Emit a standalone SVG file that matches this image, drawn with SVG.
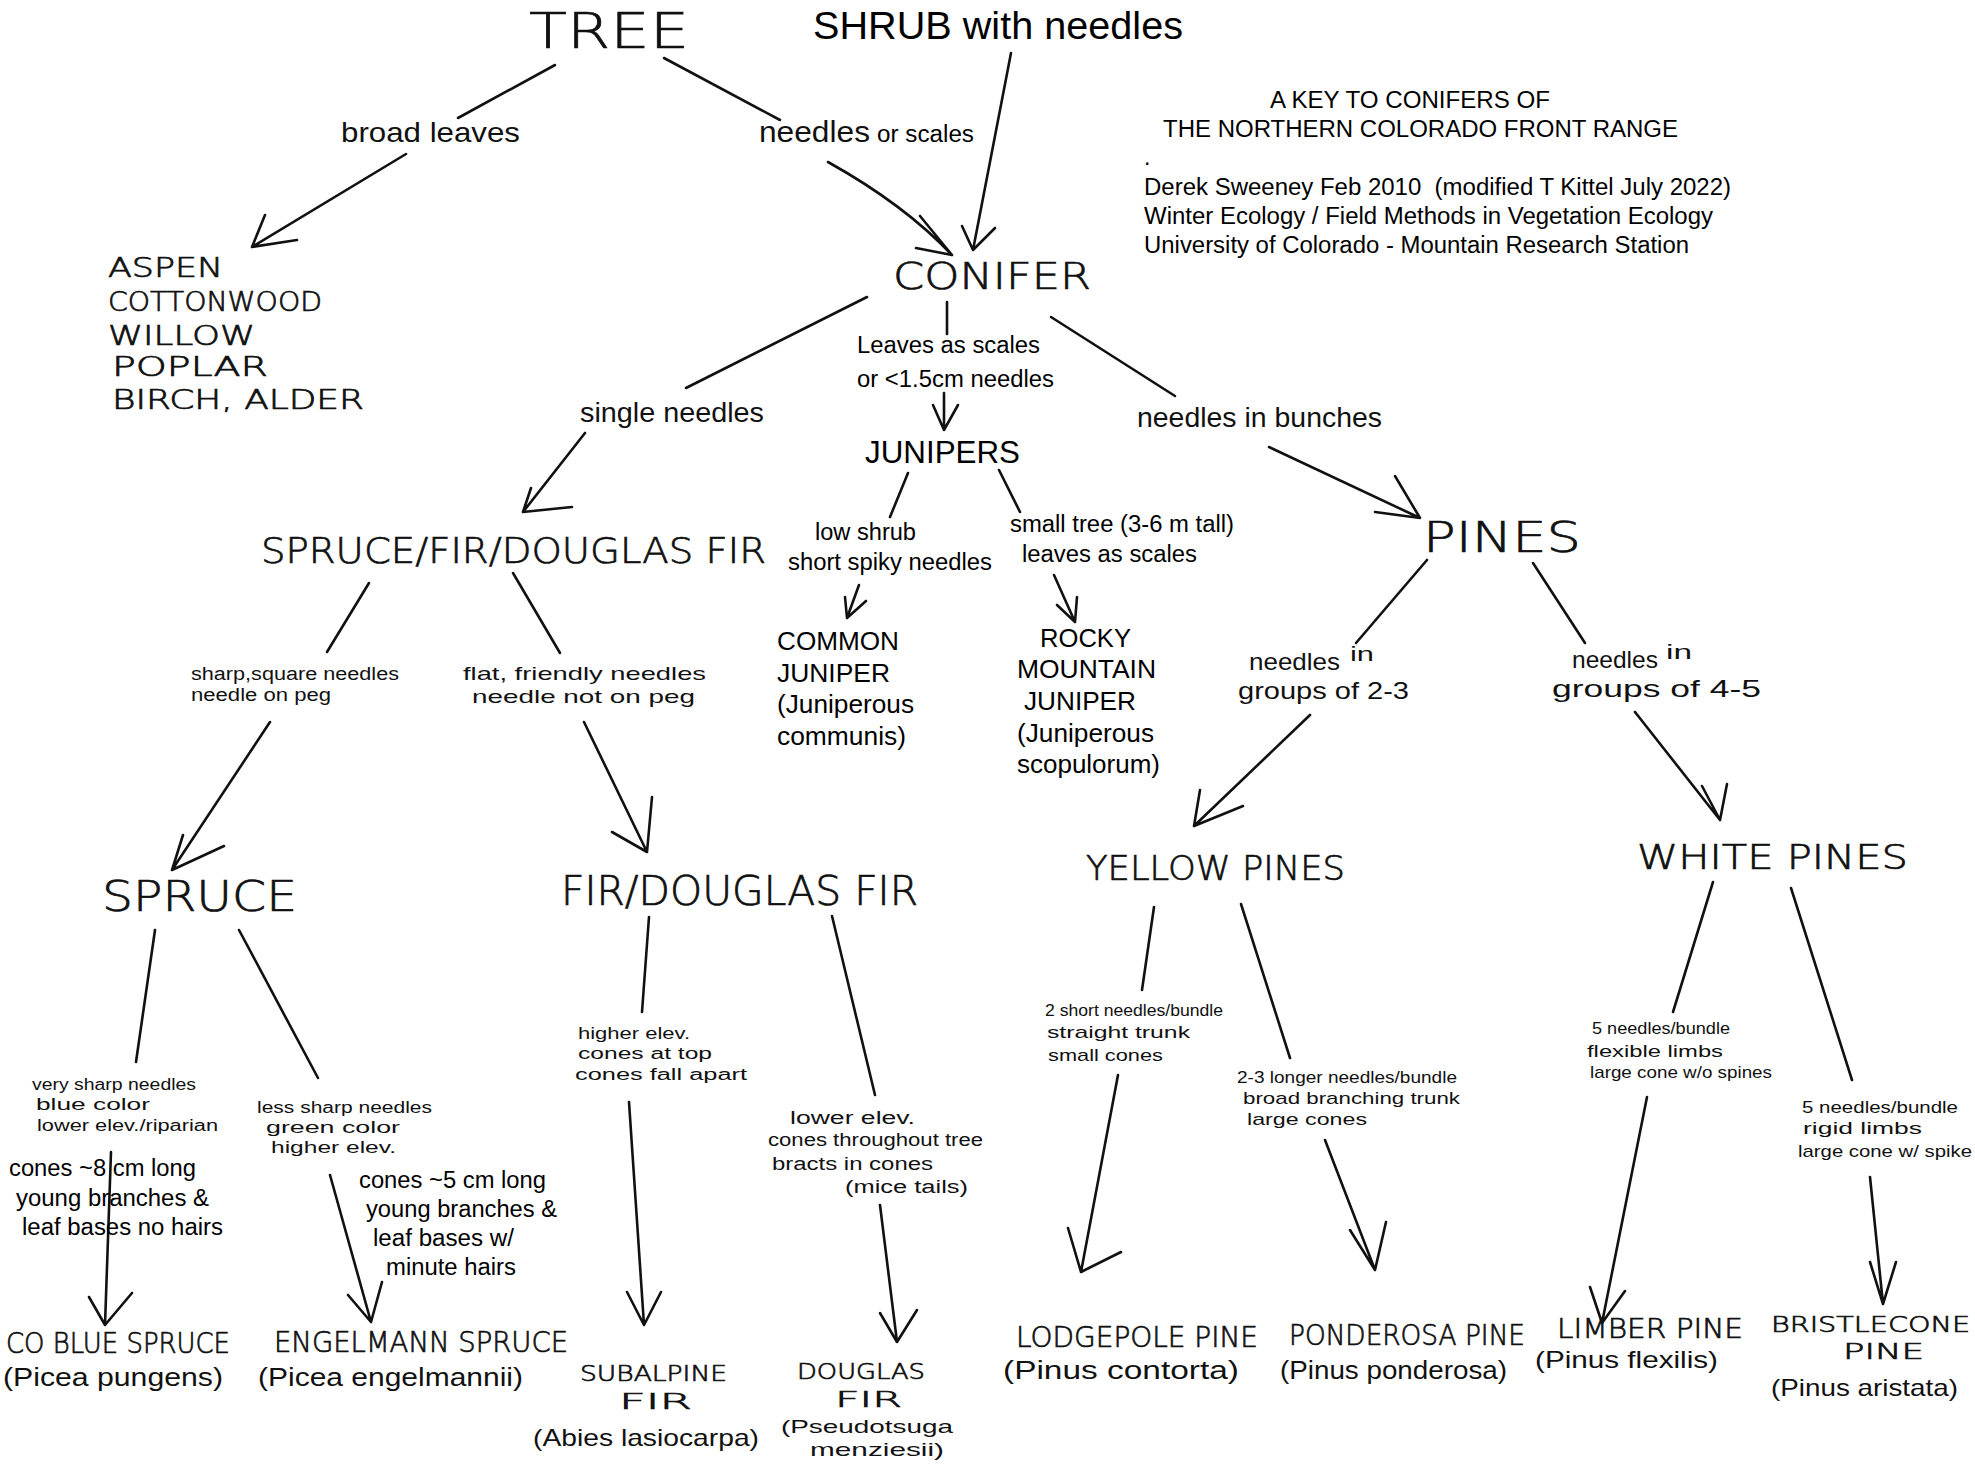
<svg xmlns="http://www.w3.org/2000/svg" width="1975" height="1473" viewBox="0 0 1975 1473">
<style>
.ty{font-family:"Liberation Sans",Arial,sans-serif;fill:#000}
.hw{font-family:"Liberation Sans Narrow","Liberation Sans",sans-serif;fill:#111}
.hc{font-family:"DejaVu Sans","Liberation Sans",sans-serif;fill:#111;font-weight:200;stroke:#111;stroke-width:0.7}
.ln{fill:none;stroke:#111;stroke-width:2.6;stroke-linecap:round;stroke-linejoin:round}
</style>
<rect width="1975" height="1473" fill="#fff"/>
<g id="connectors" class="ln">
<path d="M555,65 L458,118"/>
<path d="M664,58 L780,120"/>
<path d="M406,154 L252,247 M265,215 L252,247 L297,240"/>
<path d="M828,162 Q905,205 952,255 M920,216 L952,255 L916,248"/>
<path d="M1011,53 L973,250 M962,226 L973,250 L995,228"/>
<path d="M867,297 L686,388"/>
<path d="M585,433 L523,512 L572,507 M523,512 L531,488"/>
<path d="M947,302 L947,334"/>
<path d="M944,393 L944,430 M933,405 L944,430 L958,405"/>
<path d="M908,473 L890,517"/>
<path d="M999,470 L1020,512"/>
<path d="M859,585 L847,618 M845,597 L847,618 L866,601"/>
<path d="M1054,575 L1075,622 M1057,605 L1075,622 L1077,597"/>
<path d="M1051,317 L1175,396"/>
<path d="M1269,447 L1420,518 M1395,476 L1420,518 L1375,512"/>
<path d="M369,583 L327,652"/>
<path d="M513,573 L560,653"/>
<path d="M270,722 L172,870 M183,835 L172,870 L224,846"/>
<path d="M584,722 L647,852 M652,797 L647,852 L612,832"/>
<path d="M155,930 L136,1062"/>
<path d="M239,930 L318,1078"/>
<path d="M111,1152 L105,1325 M89,1297 L105,1325 L132,1293"/>
<path d="M330,1175 L371,1322 M348,1295 L371,1322 L382,1282"/>
<path d="M649,917 L642,1012"/>
<path d="M629,1102 L644,1325 M627,1292 L644,1325 L661,1292"/>
<path d="M832,916 L875,1095"/>
<path d="M880,1205 L897,1342 M880,1313 L897,1342 L917,1310"/>
<path d="M1427,560 L1356,643"/>
<path d="M1310,715 L1194,826 L1200,790 M1194,826 L1243,806"/>
<path d="M1533,563 L1585,643"/>
<path d="M1635,712 L1720,820 M1702,786 L1720,820 L1727,784"/>
<path d="M1154,907 L1142,990"/>
<path d="M1118,1075 L1081,1272 M1068,1228 L1081,1272 L1121,1252"/>
<path d="M1241,904 L1290,1058"/>
<path d="M1325,1140 L1375,1270 M1350,1230 L1375,1270 L1386,1222"/>
<path d="M1713,882 L1673,1012"/>
<path d="M1647,1097 L1602,1323 M1590,1287 L1602,1323 L1625,1291"/>
<path d="M1791,888 L1852,1080"/>
<path d="M1870,1177 L1883,1304 M1870,1262 L1883,1304 L1896,1262"/>
</g>
<g id="tree"><text class="hc" x="529" y="48" font-size="50" textLength="160" lengthAdjust="spacingAndGlyphs">TREE</text></g>
<g id="shrub"><text class="ty" x="813" y="39" font-size="39" textLength="370" lengthAdjust="spacingAndGlyphs">SHRUB with needles</text></g>
<g id="title" class="ty" font-size="23">
<text x="1270" y="108" textLength="280" lengthAdjust="spacingAndGlyphs">A KEY TO CONIFERS OF</text>
<text x="1163" y="137" textLength="515" lengthAdjust="spacingAndGlyphs">THE NORTHERN COLORADO FRONT RANGE</text>
<text x="1144" y="165">.</text>
<text x="1144" y="195" textLength="587" lengthAdjust="spacingAndGlyphs" xml:space="preserve">Derek Sweeney Feb 2010  (modified T Kittel July 2022)</text>
<text x="1144" y="224" textLength="569" lengthAdjust="spacingAndGlyphs">Winter Ecology / Field Methods in Vegetation Ecology</text>
<text x="1144" y="253" textLength="545" lengthAdjust="spacingAndGlyphs">University of Colorado - Mountain Research Station</text>
</g>
<g id="lbl-broad"><text class="hw" x="341" y="142" font-size="28" textLength="179" lengthAdjust="spacingAndGlyphs">broad leaves</text></g>
<g id="lbl-needles"><text class="hw" x="759" y="142" font-size="30" textLength="111" lengthAdjust="spacingAndGlyphs">needles</text><text class="ty" x="877" y="142" font-size="23" textLength="97" lengthAdjust="spacingAndGlyphs">or scales</text></g>
<g id="broadleaf" class="hc" font-size="26">
<text x="108" y="277" textLength="115" lengthAdjust="spacingAndGlyphs">ASPEN</text>
<text x="108" y="311" textLength="214" lengthAdjust="spacingAndGlyphs">COTTONWOOD</text>
<text x="108" y="345" textLength="147" lengthAdjust="spacingAndGlyphs">WILLOW</text>
<text x="112" y="376" textLength="156" lengthAdjust="spacingAndGlyphs">POPLAR</text>
<text x="112" y="409" textLength="252" lengthAdjust="spacingAndGlyphs">BIRCH, ALDER</text>
</g>
<g id="conifer"><text class="hc" x="893" y="289" font-size="38" textLength="198" lengthAdjust="spacingAndGlyphs">CONIFER</text></g>
<g id="lbl-single"><text class="hw" x="580" y="422" font-size="27" textLength="184" lengthAdjust="spacingAndGlyphs">single needles</text></g>
<g id="lbl-scales" class="ty" font-size="23">
<text x="857" y="353" textLength="183" lengthAdjust="spacingAndGlyphs">Leaves as scales</text>
<text x="857" y="387" textLength="197" lengthAdjust="spacingAndGlyphs">or &lt;1.5cm needles</text>
</g>
<g id="lbl-bunches"><text class="hw" x="1137" y="427" font-size="27" textLength="245" lengthAdjust="spacingAndGlyphs">needles in bunches</text></g>
<g id="junipers"><text class="ty" x="865" y="463" font-size="31" textLength="155" lengthAdjust="spacingAndGlyphs">JUNIPERS</text></g>
<g id="lbl-lowshrub" class="ty" font-size="23">
<text x="815" y="540" textLength="101" lengthAdjust="spacingAndGlyphs">low shrub</text>
<text x="788" y="570" textLength="204" lengthAdjust="spacingAndGlyphs">short spiky needles</text>
</g>
<g id="lbl-smalltree" class="ty" font-size="23">
<text x="1010" y="532" textLength="224" lengthAdjust="spacingAndGlyphs">small tree (3-6 m tall)</text>
<text x="1022" y="562" textLength="175" lengthAdjust="spacingAndGlyphs">leaves as scales</text>
</g>
<g id="common-juniper" class="ty" font-size="26">
<text x="777" y="650" textLength="122" lengthAdjust="spacingAndGlyphs">COMMON</text>
<text x="777" y="682" textLength="113" lengthAdjust="spacingAndGlyphs">JUNIPER</text>
<text x="777" y="713" textLength="137" lengthAdjust="spacingAndGlyphs">(Juniperous</text>
<text x="777" y="745" textLength="129" lengthAdjust="spacingAndGlyphs">communis)</text>
</g>
<g id="rocky-mountain-juniper" class="ty" font-size="26">
<text x="1040" y="647" textLength="91" lengthAdjust="spacingAndGlyphs">ROCKY</text>
<text x="1017" y="678" textLength="139" lengthAdjust="spacingAndGlyphs">MOUNTAIN</text>
<text x="1024" y="710" textLength="112" lengthAdjust="spacingAndGlyphs">JUNIPER</text>
<text x="1017" y="742" textLength="137" lengthAdjust="spacingAndGlyphs">(Juniperous</text>
<text x="1017" y="773" textLength="143" lengthAdjust="spacingAndGlyphs">scopulorum)</text>
</g>
<g id="spruce-fir"><text class="hc" x="261" y="563" font-size="36" textLength="505" lengthAdjust="spacingAndGlyphs">SPRUCE/FIR/DOUGLAS FIR</text></g>
<g id="pines"><text class="hc" x="1423" y="552" font-size="42" textLength="158" lengthAdjust="spacingAndGlyphs">PINES</text></g>
<g id="lbl-sharp" class="hw" font-size="18">
<text x="191" y="680" textLength="208" lengthAdjust="spacingAndGlyphs">sharp,square needles</text>
<text x="191" y="701" textLength="140" lengthAdjust="spacingAndGlyphs">needle on peg</text>
</g>
<g id="lbl-flat" class="hw" font-size="19">
<text x="463" y="680" textLength="243" lengthAdjust="spacingAndGlyphs">flat, friendly needles</text>
<text x="472" y="703" textLength="223" lengthAdjust="spacingAndGlyphs">needle not on peg</text>
</g>
<g id="lbl-groups23" class="hw" font-size="24">
<text x="1249" y="670" textLength="91" lengthAdjust="spacingAndGlyphs">needles</text>
<text x="1350" y="661" font-size="20" textLength="24" lengthAdjust="spacingAndGlyphs">in</text>
<text x="1238" y="699" textLength="171" lengthAdjust="spacingAndGlyphs">groups of 2-3</text>
</g>
<g id="lbl-groups45" class="hw" font-size="24">
<text x="1572" y="668" textLength="86" lengthAdjust="spacingAndGlyphs">needles</text>
<text x="1666" y="659" font-size="20" textLength="26" lengthAdjust="spacingAndGlyphs">in</text>
<text x="1552" y="697" textLength="209" lengthAdjust="spacingAndGlyphs">groups of 4-5</text>
</g>
<g id="spruce"><text class="hc" x="102" y="911" font-size="42" textLength="195" lengthAdjust="spacingAndGlyphs">SPRUCE</text></g>
<g id="fir-douglas"><text class="hc" x="561" y="905" font-size="40" textLength="357" lengthAdjust="spacingAndGlyphs">FIR/DOUGLAS FIR</text></g>
<g id="yellow-pines"><text class="hc" x="1086" y="880" font-size="34" textLength="259" lengthAdjust="spacingAndGlyphs">YELLOW PINES</text></g>
<g id="white-pines"><text class="hc" x="1637" y="869" font-size="34" textLength="271" lengthAdjust="spacingAndGlyphs">WHITE PINES</text></g>
<g id="lbl-verysharp" class="hw" font-size="16">
<text x="32" y="1090" textLength="164" lengthAdjust="spacingAndGlyphs">very sharp needles</text>
<text x="36" y="1110" textLength="114" lengthAdjust="spacingAndGlyphs">blue color</text>
<text x="37" y="1131" textLength="181" lengthAdjust="spacingAndGlyphs">lower elev./riparian</text>
</g>
<g id="lbl-cones8" class="ty" font-size="23">
<text x="9" y="1176" textLength="187" lengthAdjust="spacingAndGlyphs">cones ~8 cm long</text>
<text x="16" y="1206" textLength="193" lengthAdjust="spacingAndGlyphs">young branches &amp;</text>
<text x="22" y="1235" textLength="201" lengthAdjust="spacingAndGlyphs">leaf bases no hairs</text>
</g>
<g id="lbl-lesssharp" class="hw" font-size="16">
<text x="257" y="1113" textLength="175" lengthAdjust="spacingAndGlyphs">less sharp needles</text>
<text x="266" y="1133" textLength="134" lengthAdjust="spacingAndGlyphs">green color</text>
<text x="271" y="1153" textLength="125" lengthAdjust="spacingAndGlyphs">higher elev.</text>
</g>
<g id="lbl-cones5" class="ty" font-size="23">
<text x="359" y="1188" textLength="187" lengthAdjust="spacingAndGlyphs">cones ~5 cm long</text>
<text x="366" y="1217" textLength="191" lengthAdjust="spacingAndGlyphs">young branches &amp;</text>
<text x="373" y="1246" textLength="141" lengthAdjust="spacingAndGlyphs">leaf bases w/</text>
<text x="386" y="1275" textLength="130" lengthAdjust="spacingAndGlyphs">minute hairs</text>
</g>
<g id="lbl-higher" class="hw" font-size="16">
<text x="578" y="1039" textLength="112" lengthAdjust="spacingAndGlyphs">higher elev.</text>
<text x="578" y="1059" textLength="134" lengthAdjust="spacingAndGlyphs">cones at top</text>
<text x="575" y="1080" textLength="172" lengthAdjust="spacingAndGlyphs">cones fall apart</text>
</g>
<g id="lbl-lower" class="hw" font-size="18">
<text x="790" y="1124" textLength="125" lengthAdjust="spacingAndGlyphs">lower elev.</text>
<text x="768" y="1146" textLength="215" lengthAdjust="spacingAndGlyphs">cones throughout tree</text>
<text x="772" y="1170" textLength="161" lengthAdjust="spacingAndGlyphs">bracts in cones</text>
<text x="845" y="1193" textLength="123" lengthAdjust="spacingAndGlyphs">(mice tails)</text>
</g>
<g id="lbl-2short" class="hw" font-size="17">
<text x="1045" y="1016" textLength="178" lengthAdjust="spacingAndGlyphs">2 short needles/bundle</text>
<text x="1047" y="1038" textLength="143" lengthAdjust="spacingAndGlyphs">straight trunk</text>
<text x="1048" y="1061" textLength="115" lengthAdjust="spacingAndGlyphs">small cones</text>
</g>
<g id="lbl-23longer" class="hw" font-size="17">
<text x="1237" y="1083" textLength="220" lengthAdjust="spacingAndGlyphs">2-3 longer needles/bundle</text>
<text x="1243" y="1104" textLength="217" lengthAdjust="spacingAndGlyphs">broad branching trunk</text>
<text x="1247" y="1125" textLength="120" lengthAdjust="spacingAndGlyphs">large cones</text>
</g>
<g id="lbl-flexible" class="hw" font-size="17">
<text x="1592" y="1034" textLength="138" lengthAdjust="spacingAndGlyphs">5 needles/bundle</text>
<text x="1587" y="1057" textLength="136" lengthAdjust="spacingAndGlyphs">flexible limbs</text>
<text x="1590" y="1078" textLength="182" lengthAdjust="spacingAndGlyphs">large cone w/o spines</text>
</g>
<g id="lbl-rigid" class="hw" font-size="17">
<text x="1802" y="1113" textLength="156" lengthAdjust="spacingAndGlyphs">5 needles/bundle</text>
<text x="1803" y="1134" textLength="119" lengthAdjust="spacingAndGlyphs">rigid limbs</text>
<text x="1798" y="1157" textLength="174" lengthAdjust="spacingAndGlyphs">large cone w/ spike</text>
</g>
<g id="co-blue-spruce">
<text class="hc" x="6" y="1353" font-size="28" textLength="224" lengthAdjust="spacingAndGlyphs">CO BLUE SPRUCE</text>
<text class="hw" x="3" y="1386" font-size="26" textLength="220" lengthAdjust="spacingAndGlyphs">(Picea pungens)</text>
</g>
<g id="engelmann-spruce">
<text class="hc" x="274" y="1352" font-size="28" textLength="294" lengthAdjust="spacingAndGlyphs">ENGELMANN SPRUCE</text>
<text class="hw" x="258" y="1386" font-size="26" textLength="265" lengthAdjust="spacingAndGlyphs">(Picea engelmannii)</text>
</g>
<g id="subalpine-fir">
<text class="hc" x="580" y="1381" font-size="22" textLength="147" lengthAdjust="spacingAndGlyphs">SUBALPINE</text>
<text class="hc" x="619" y="1409" font-size="22" textLength="73" lengthAdjust="spacingAndGlyphs">FIR</text>
<text class="hw" x="533" y="1446" font-size="24" textLength="226" lengthAdjust="spacingAndGlyphs">(Abies lasiocarpa)</text>
</g>
<g id="douglas-fir">
<text class="hc" x="797" y="1379" font-size="22" textLength="128" lengthAdjust="spacingAndGlyphs">DOUGLAS</text>
<text class="hc" x="835" y="1407" font-size="22" textLength="67" lengthAdjust="spacingAndGlyphs">FIR</text>
<text class="hw" x="781" y="1433" font-size="19" textLength="172" lengthAdjust="spacingAndGlyphs">(Pseudotsuga</text>
<text class="hw" x="810" y="1456" font-size="19" textLength="134" lengthAdjust="spacingAndGlyphs">menziesii)</text>
</g>
<g id="lodgepole-pine">
<text class="hc" x="1016" y="1347" font-size="28" textLength="242" lengthAdjust="spacingAndGlyphs">LODGEPOLE PINE</text>
<text class="hw" x="1003" y="1379" font-size="26" textLength="236" lengthAdjust="spacingAndGlyphs">(Pinus contorta)</text>
</g>
<g id="ponderosa-pine">
<text class="hc" x="1289" y="1345" font-size="28" textLength="236" lengthAdjust="spacingAndGlyphs">PONDEROSA PINE</text>
<text class="hw" x="1280" y="1379" font-size="26" textLength="227" lengthAdjust="spacingAndGlyphs">(Pinus ponderosa)</text>
</g>
<g id="limber-pine">
<text class="hc" x="1557" y="1338" font-size="26" textLength="186" lengthAdjust="spacingAndGlyphs">LIMBER PINE</text>
<text class="hw" x="1535" y="1368" font-size="24" textLength="183" lengthAdjust="spacingAndGlyphs">(Pinus flexilis)</text>
</g>
<g id="bristlecone-pine">
<text class="hc" x="1771" y="1332" font-size="22" textLength="199" lengthAdjust="spacingAndGlyphs">BRISTLECONE</text>
<text class="hc" x="1843" y="1359" font-size="22" textLength="81" lengthAdjust="spacingAndGlyphs">PINE</text>
<text class="hw" x="1771" y="1396" font-size="24" textLength="187" lengthAdjust="spacingAndGlyphs">(Pinus aristata)</text>
</g>
</svg>
